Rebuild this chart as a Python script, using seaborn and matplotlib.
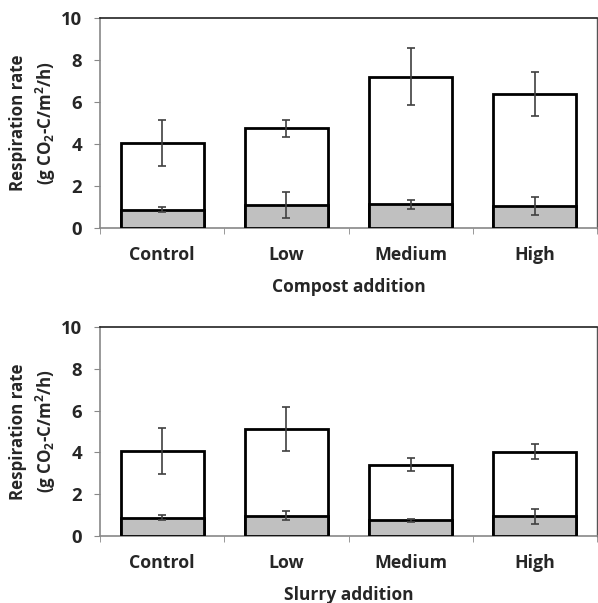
import numpy as np
import pandas as pd
import matplotlib
matplotlib.use('Agg')
import matplotlib.pyplot as plt
import seaborn as sns

categories = ['Control', 'Low', 'Medium', 'High']

compost_total = [4.05, 4.75, 7.2, 6.38]
compost_total_err = [1.1, 0.4, 1.35, 1.05]
compost_base = [0.88, 1.1, 1.12, 1.05]
compost_base_err = [0.12, 0.6, 0.2, 0.45]

slurry_total = [4.07, 5.12, 3.41, 4.03]
slurry_total_err = [1.1, 1.05, 0.3, 0.35]
slurry_base = [0.88, 0.97, 0.75, 0.94]
slurry_base_err = [0.12, 0.22, 0.07, 0.35]

sns.set_style('white')
plt.rcParams['font.family'] = ['Open Sans', 'DejaVu Sans']
plt.rcParams['mathtext.fontset'] = 'custom'
plt.rcParams['mathtext.rm'] = 'Open Sans:bold'
plt.rcParams['mathtext.bf'] = 'Open Sans:bold'
plt.rcParams['mathtext.default'] = 'bf'

fig = plt.figure(figsize=(5.98, 6.03), dpi=100)
W, H = 598, 603
ax_top = fig.add_axes([100 / W, 1 - 228 / H, 497 / W, 210 / H])
ax_bot = fig.add_axes([100 / W, 1 - 536 / H, 497 / W, 209 / H])

grey = '#c0c0c0'
err_col = '#404040'


def draw_panel(ax, total, total_err, base, base_err, xlabel):
    df = pd.DataFrame({'treatment': categories, 'total': total, 'base': base})
    sns.barplot(data=df, x='treatment', y='total', color='white', width=0.67,
                edgecolor='black', linewidth=2, ax=ax, zorder=2)
    sns.barplot(data=df, x='treatment', y='base', color=grey, width=0.67,
                edgecolor='black', linewidth=2, ax=ax, zorder=3, saturation=1)
    x = np.arange(len(categories))
    ax.errorbar(x, total, yerr=total_err, fmt='none', ecolor=err_col,
                elinewidth=1.2, capsize=3, capthick=1.2, zorder=4)
    ax.errorbar(x, base, yerr=base_err, fmt='none', ecolor=err_col,
                elinewidth=1.2, capsize=3, capthick=1.2, zorder=4)

    ax.set_xlim(-0.5, 3.5)
    ax.set_ylim(0, 10)
    ax.set_yticks([0, 2, 4, 6, 8, 10])
    ax.set_xticks(x)
    ax.set_xticks(np.arange(-0.5, 4, 1), minor=True)
    ax.tick_params(axis='x', which='major', length=0, pad=13, labelsize=12.8)
    ax.tick_params(axis='x', which='minor', length=4, color='#888888', direction='out')
    ax.tick_params(axis='y', length=4, color='#888888', direction='out', pad=9, labelsize=13.3)
    ax.tick_params(bottom=True, left=True, which='both')
    for lab in ax.get_xticklabels() + ax.get_yticklabels():
        lab.set_fontweight('bold')
    for side in ['left', 'bottom']:
        ax.spines[side].set_color('#888888')
        ax.spines[side].set_linewidth(1.2)
    ax.spines['top'].set_color('#222222')
    ax.spines['top'].set_linewidth(1.2)
    ax.spines['right'].set_color('#555555')
    ax.spines['right'].set_linewidth(1.0)

    ax.set_xlabel(xlabel, fontsize=12.5, fontweight='bold', labelpad=10)
    ax.set_ylabel('Respiration rate\n(g CO$_2$-C/m$^2$/h)', fontsize=12.2,
                  fontweight='bold', labelpad=2, linespacing=1.4)


draw_panel(ax_top, compost_total, compost_total_err, compost_base, compost_base_err,
           'Compost addition')
draw_panel(ax_bot, slurry_total, slurry_total_err, slurry_base, slurry_base_err,
           'Slurry addition')

fig.savefig('out.png', dpi=100)
